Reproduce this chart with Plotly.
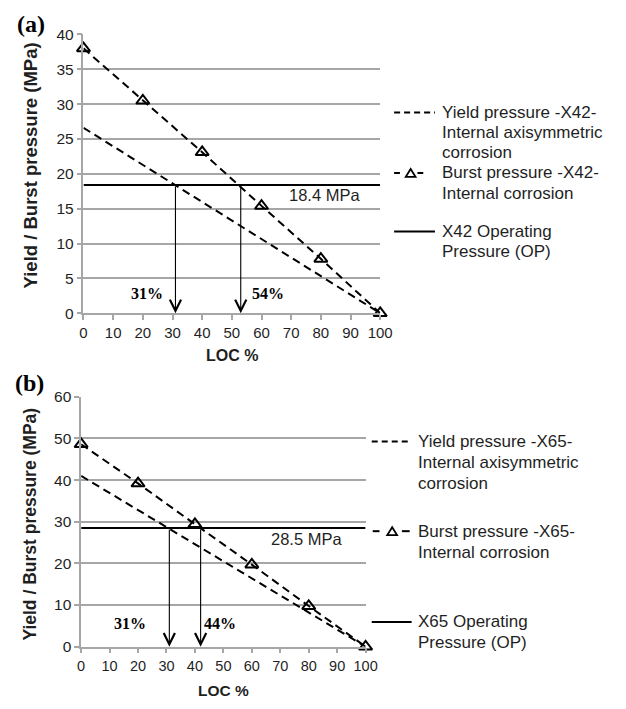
import plotly.graph_objects as go

W, H = 626, 709

# ---------------- data ----------------
loc_pts = [0, 20, 40, 60, 80, 100]
burst_x42 = [38.0, 30.5, 23.1, 15.4, 7.8, 0.0]
yield_x42_x = [0, 100]
yield_x42 = [26.6, 0.0]
op_x42 = 18.4
arrows_x42 = [31, 53]
labels_x42 = ["31%", "54%"]
label_pos_x42 = [21.3, 62.3]

burst_x65 = [48.6, 39.2, 29.4, 19.7, 9.75, 0.0]
yield_x65_x = [0, 100]
yield_x65 = [41.0, 0.0]
op_x65 = 28.5
arrows_x65 = [31, 42]
labels_x65 = ["31%", "44%"]
label_pos_x65 = [17.3, 48.7]

xticks = list(range(0, 101, 10))

SANS = "Liberation Sans, Arial, sans-serif"
SERIF = "Liberation Serif, Times New Roman, serif"
GRID = "#a6a6a6"
TXT = "#1f1f1f"


def px(x, y):
    return x / W, 1 - y / H


fig = go.Figure()

DASH = "8px,5px"
MARK = dict(symbol="triangle-up-open", size=11.5, color="black", line=dict(width=2, color="black"))

# panel a traces
fig.add_trace(go.Scatter(x=yield_x42_x, y=yield_x42, mode="lines",
                         line=dict(color="black", width=2, dash=DASH),
                         xaxis="x", yaxis="y", cliponaxis=False, showlegend=False))
fig.add_trace(go.Scatter(x=loc_pts, y=burst_x42, mode="lines+markers",
                         line=dict(color="black", width=2, dash=DASH), marker=MARK,
                         xaxis="x", yaxis="y", cliponaxis=False, showlegend=False))
fig.add_trace(go.Scatter(x=[0, 100], y=[op_x42, op_x42], mode="lines",
                         line=dict(color="black", width=2),
                         xaxis="x", yaxis="y", cliponaxis=False, showlegend=False))

# panel b traces
fig.add_trace(go.Scatter(x=yield_x65_x, y=yield_x65, mode="lines",
                         line=dict(color="black", width=2, dash=DASH),
                         xaxis="x2", yaxis="y2", cliponaxis=False, showlegend=False))
fig.add_trace(go.Scatter(x=loc_pts, y=burst_x65, mode="lines+markers",
                         line=dict(color="black", width=2, dash=DASH), marker=MARK,
                         xaxis="x2", yaxis="y2", cliponaxis=False, showlegend=False))
fig.add_trace(go.Scatter(x=[0, 100], y=[op_x65, op_x65], mode="lines",
                         line=dict(color="black", width=2),
                         xaxis="x2", yaxis="y2", cliponaxis=False, showlegend=False))

annotations = []
shapes = []

# arrows + percent labels
for xr, yr, arrows, op, labs, lpos, ly in [
    ("x", "y", arrows_x42, op_x42, labels_x42, label_pos_x42, 2.8),
    ("x2", "y2", arrows_x65, op_x65, labels_x65, label_pos_x65, 5.6),
]:
    for ax_ in arrows:
        annotations.append(dict(x=ax_, y=0, ax=ax_, ay=op, xref=xr, yref=yr,
                                axref=xr, ayref=yr, text="", showarrow=True,
                                arrowhead=5, arrowsize=2.0, arrowwidth=1.1,
                                arrowcolor="black", standoff=0))
    for t, xp in zip(labs, lpos):
        annotations.append(dict(x=xp, y=ly, xref=xr, yref=yr, text=t, showarrow=False,
                                font=dict(family=SERIF, size=16, color="black", weight="bold")))

annotations.append(dict(x=81.1, y=17.0, xref="x", yref="y", text="18.4 MPa", showarrow=False,
                        font=dict(family=SANS, size=16.5, color=TXT)))
annotations.append(dict(x=79.3, y=25.8, xref="x2", yref="y2", text="28.5 MPa", showarrow=False,
                        font=dict(family=SANS, size=16.5, color=TXT)))


def text_px(x, y, t, size, anchor="left", family=SANS, weight="normal", angle=0, color=TXT):
    xp, yp = px(x, y)
    annotations.append(dict(x=xp, y=yp, xref="paper", yref="paper", text=t, showarrow=False,
                            xanchor=anchor, yanchor="middle", textangle=angle,
                            font=dict(family=family, size=size, color=color, weight=weight)))


def line_px(x0, x1, y, dash=None):
    a = px(x0, y)
    b = px(x1, y)
    ln = dict(color="black", width=2)
    if dash:
        ln["dash"] = dash
    shapes.append(dict(type="line", xref="paper", yref="paper", x0=a[0], y0=a[1],
                       x1=b[0], y1=b[1], line=ln))


def tri_px(cx, cy, w=10, h=8):
    pts = [(cx - w / 2, cy + h / 2), (cx + w / 2, cy + h / 2), (cx, cy - h / 2)]
    pp = [px(*p) for p in pts]
    path = "M{},{} L{},{} L{},{} Z".format(pp[0][0], pp[0][1], pp[1][0], pp[1][1], pp[2][0], pp[2][1])
    shapes.append(dict(type="path", xref="paper", yref="paper", path=path,
                       line=dict(color="black", width=1.8), fillcolor="white"))


# panel labels
text_px(28, 15, "(a)", 24, anchor="center", family=SERIF, weight="bold", color="black")
text_px(26, 383, "(b)", 24, anchor="center", family=SERIF, weight="bold", color="black")

# axis titles
text_px(27, 160, "Yield / Burst pressure (MPa)", 18.5, anchor="center", weight="bold", angle=-90)
text_px(27, 528, "Yield / Burst pressure (MPa)", 17.5, anchor="center", weight="bold", angle=-90)
text_px(234, 355, "LOC %", 16, anchor="center", weight="bold")
text_px(225.5, 698, "LOC %", 15.5, anchor="center", weight="bold")

# legend a
LS = 17
line_px(401, 443, 106, dash="6px,4px")
for i, t in enumerate(["Yield pressure -X42-", "Internal axisymmetric", "corrosion"]):
    text_px(448, 106 + 20.5 * i, t, LS)
line_px(401, 407, 168)
tri_px(418, 168)
line_px(425, 431, 168)
for i, t in enumerate(["Burst pressure -X42-", "Internal corrosion"]):
    text_px(448, 168 + 21 * i, t, LS)
line_px(401, 443, 228)
for i, t in enumerate(["X42 Operating", "Pressure (OP)"]):
    text_px(448, 228 + 20.5 * i, t, LS)

# legend b
line_px(378, 419, 443, dash="6px,4px")
for i, t in enumerate(["Yield pressure -X65-", "Internal axisymmetric", "corrosion"]):
    text_px(424, 443 + 21.5 * i, t, LS)
line_px(379, 386, 535)
tri_px(399, 535)
line_px(409, 417, 535)
for i, t in enumerate(["Burst pressure -X65-", "Internal corrosion"]):
    text_px(424, 535 + 21.5 * i, t, LS)
line_px(378, 419, 628)
for i, t in enumerate(["X65 Operating", "Pressure (OP)"]):
    text_px(424, 628 + 21 * i, t, LS)

ax_common = dict(showline=True, linecolor=GRID, linewidth=1.5, ticks="outside", ticklen=5,
                 tickcolor=GRID, tickwidth=1.5, zeroline=False)

fig.update_layout(
    width=W, height=H,
    margin=dict(l=0, r=0, t=0, b=0),
    paper_bgcolor="white", plot_bgcolor="white",
    showlegend=False,
    xaxis=dict(domain=[81.7 / W, 386.7 / W], range=[0, 100], tickvals=xticks, showgrid=False,
               anchor="y", tickfont=dict(family=SANS, size=15, color=TXT), **ax_common),
    yaxis=dict(domain=[1 - 311.7 / H, 1 - 26 / H], range=[0, 40], dtick=5, showgrid=True,
               gridcolor=GRID, gridwidth=1.5, anchor="x",
               tickfont=dict(family=SANS, size=15.5, color=TXT), **ax_common),
    xaxis2=dict(domain=[79.3 / W, 371.7 / W], range=[0, 100], tickvals=xticks, showgrid=False,
                anchor="y2", tickfont=dict(family=SANS, size=14.5, color=TXT), **ax_common),
    yaxis2=dict(domain=[1 - 653.3 / H, 1 - 397.3 / H], range=[0, 60], dtick=10, showgrid=True,
                gridcolor=GRID, gridwidth=1.5, anchor="x2",
                tickfont=dict(family=SANS, size=15.5, color=TXT), **ax_common),
    annotations=annotations,
    shapes=shapes,
)

fig.write_html("out.html")
